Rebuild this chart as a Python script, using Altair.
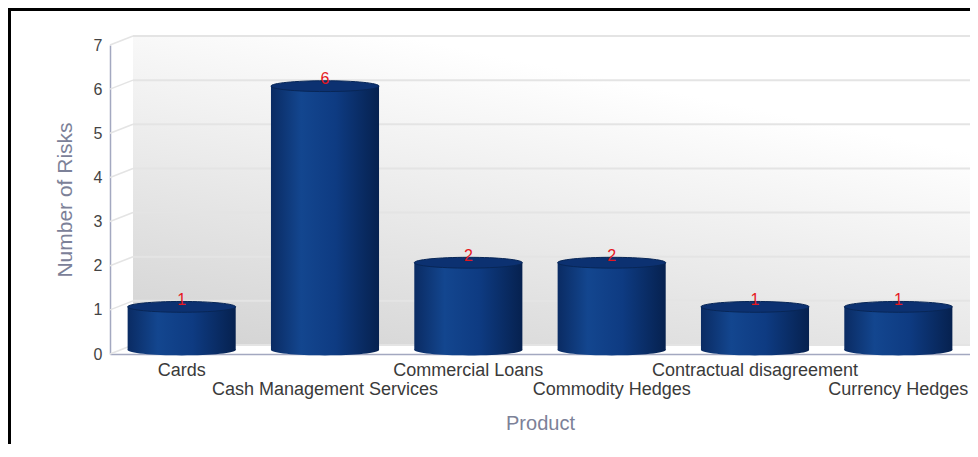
import json
import altair as alt
import pandas as pd

# ---- data ----
products = ["Cards", "Cash Management Services", "Commercial Loans",
            "Commodity Hedges", "Contractual disagreement", "Currency Hedges"]
risks = [1, 6, 2, 2, 1, 1]
y_ticks = [0, 1, 2, 3, 4, 5, 6, 7]
lower_row = ["Cash Management Services", "Commodity Hedges", "Currency Hedges"]

# ---- layout ----
W, H = 860, 309
PAD_IN = 0.246
DEPTH_X, DEPTH_Y = 23, 9
band = W * (1 - PAD_IN) / len(products)
cap_size = band ** 2
FONT = "Liberation Sans"

df = pd.DataFrame({"Product": products, "Risks": risks})
grid_df = pd.DataFrame({"v": y_ticks})
one = pd.DataFrame({"a": [0]})

xscale = alt.Scale(domain=products, paddingInner=PAD_IN, paddingOuter=PAD_IN / 2)
yscale = alt.Scale(domain=[0, 7], nice=False, zero=True)

label_expr = ("indexof(" + json.dumps(lower_row) +
              ", datum.value) >= 0 ? ['', datum.label] : datum.label")

ellipse = "M-1,0A1,0.1 0 1,0 1,0A1,0.1 0 1,0 -1,0Z"

body_grad = alt.Gradient(
    gradient="linear", x1=0, x2=1, y1=0, y2=0,
    stops=[alt.GradientStop(color="#0a2b63", offset=0),
           alt.GradientStop(color="#13468f", offset=0.28),
           alt.GradientStop(color="#0e3b82", offset=0.6),
           alt.GradientStop(color="#06214f", offset=1)])
wall_grad = alt.Gradient(
    gradient="linear", x1=0, y1=1, x2=0.5, y2=0.1,
    stops=[alt.GradientStop(color="#d2d2d2", offset=0),
           alt.GradientStop(color="#ffffff", offset=1)])

frame = alt.Chart(one).mark_rect(fillOpacity=0, stroke="black", strokeWidth=3).encode(
    x=alt.value(-100.5), x2=alt.value(W + 200),
    y=alt.value(-35.5), y2=alt.value(H + 300))

wall = alt.Chart(one).mark_rect(fill=wall_grad, yOffset=-DEPTH_Y, y2Offset=-DEPTH_Y).encode(
    x=alt.value(DEPTH_X), x2=alt.value(W),
    y=alt.datum(7, scale=yscale), y2=alt.datum(0))

grid = alt.Chart(grid_df).mark_rule(color="#e4e4e4", strokeWidth=2,
                                    yOffset=-DEPTH_Y, y2Offset=-DEPTH_Y).encode(
    x=alt.value(DEPTH_X), x2=alt.value(W),
    y=alt.Y("v:Q", scale=yscale), y2="v:Q")

diag = alt.Chart(grid_df).mark_rule(color="#e4e4e4", strokeWidth=1.5,
                                    y2Offset=-DEPTH_Y).encode(
    x=alt.value(0), x2=alt.value(DEPTH_X),
    y=alt.Y("v:Q", scale=yscale), y2="v:Q")

x_enc = alt.X("Product:N", scale=xscale, sort=products,
              axis=alt.Axis(title="Product", labelAngle=0, labelExpr=label_expr,
                            labelLineHeight=19, labelPadding=7, labelOverlap=False,
                            labelLimit=300,
                            labelColor="#3a3a3a", labelFont=FONT, labelFontSize=18,
                            ticks=False, grid=False, domainColor="#a3a8c0",
                            domainWidth=1.5, titleColor="#7c8198", titleFont=FONT,
                            titleFontSize=20, titleFontWeight="normal", titlePadding=15))
y_enc = alt.Y("Risks:Q", scale=yscale,
              axis=alt.Axis(title="Number of Risks", values=y_ticks, format="d",
                            labelColor="#444444", labelFont=FONT, labelFontSize=16,
                            labelPadding=8, ticks=False, grid=False,
                            domainColor="#a3a8c0", domainWidth=1.5,
                            titleColor="#7c8198", titleFont=FONT, titleFontSize=21,
                            titleFontWeight="normal", titlePadding=18))

bottom_cap = alt.Chart(df).mark_point(shape=ellipse, size=cap_size, filled=True,
                                      fill=body_grad, opacity=1, strokeWidth=0,
                                      yOffset=-4).encode(
    x=x_enc, y=alt.datum(0))

body = alt.Chart(df).mark_bar(fill=body_grad, yOffset=-3, y2Offset=-4).encode(
    x=x_enc, y=y_enc, y2=alt.datum(0))

top_cap = alt.Chart(df).mark_point(shape=ellipse, size=cap_size, filled=True,
                                   fill="#0c3171", stroke="#082656", strokeWidth=1,
                                   opacity=1, yOffset=-3).encode(
    x=x_enc, y=y_enc)

labels = alt.Chart(df).mark_text(color="#e6181f", font=FONT, fontSize=16,
                                 baseline="middle", dy=-10).encode(
    x=x_enc, y=y_enc, text="Risks:Q")

chart = alt.layer(frame, wall, grid, diag, bottom_cap, body, top_cap, labels).properties(
    width=W, height=H,
    autosize=alt.AutoSizeParams(type="none"),
    padding={"left": 102, "top": 37, "right": 0, "bottom": 90},
).configure_view(strokeWidth=0)

chart.save("out.html", embed_options={"renderer": "svg", "actions": False})
